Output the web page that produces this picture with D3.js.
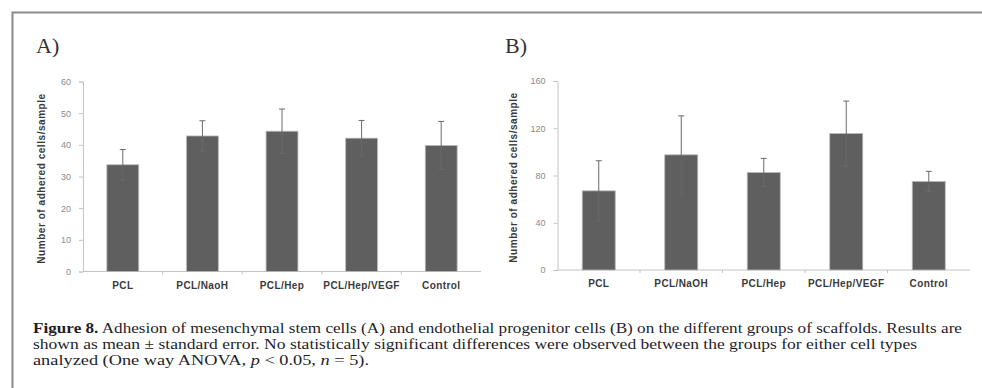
<!DOCTYPE html>
<html>
<head>
<meta charset="utf-8">
<script src="https://cdn.jsdelivr.net/npm/d3@7"></script>
<style>
  body { margin: 0; background: #fff; }
  svg { display: block; }
</style>
</head>
<body>
<svg id="fig" width="982" height="388"></svg>
<script>
var groups = ["PCL", "PCL/NaoH", "PCL/Hep", "PCL/Hep/VEGF", "Control"];
var groupsB = ["PCL", "PCL/NaOH", "PCL/Hep", "PCL/Hep/VEGF", "Control"];
var msc_mean = [33.7, 42.8, 44.3, 42.1, 39.8];
var msc_err = [4.8, 4.8, 7.0, 5.6, 7.6];
var epc_mean = [67, 97.5, 82.5, 115.5, 75];
var epc_err = [25.5, 33, 12, 27.5, 8.5];
var ticksA = [0, 10, 20, 30, 40, 50, 60];
var ticksB = [0, 40, 80, 120, 160];
var yTitle = "Number of adhered cells/sample";

var svg = d3.select("#fig");

// frame (open on right and bottom)
svg.append("path")
  .attr("d", "M12.5,388V12.5H982")
  .attr("fill", "none")
  .attr("stroke", "#8a8a8a")
  .attr("stroke-width", 2);

function drawPanel(opt) {
  var x = d3.scaleBand().domain(opt.cats).range([opt.x0, opt.x1])
    .paddingInner(0.6).paddingOuter(0.3);
  var y = d3.scaleLinear().domain([0, opt.max]).range([opt.y0, opt.y1]);
  var g = svg.append("g");

  // panel letter
  svg.append("text")
    .attr("x", opt.lx).attr("y", 53)
    .attr("font-family", "Liberation Serif")
    .attr("font-size", 22)
    .attr("fill", "#333")
    .text(opt.letter);

  // y axis
  var ya = g.append("g")
    .attr("transform", "translate(" + opt.x0 + ",0)")
    .call(d3.axisLeft(y).tickValues(opt.ticks).tickSize(4).tickPadding(8));
  ya.select(".domain").attr("stroke", "#c4c4c4");
  ya.selectAll(".tick line").attr("stroke", "#c4c4c4");
  ya.selectAll(".tick text")
    .attr("font-family", "Arial, Liberation Sans")
    .attr("font-size", 9)
    .attr("fill", "#8a8a8a");

  // x axis with ticks at category boundaries
  var xa = g.append("g").attr("transform", "translate(0," + opt.y0 + ")");
  xa.append("line")
    .attr("x1", opt.x0).attr("x2", opt.x1)
    .attr("stroke", "#c4c4c4");
  var step = x.step();
  xa.selectAll("line.b")
    .data(opt.cats.slice(1))
    .enter().append("line")
    .attr("class", "b")
    .attr("x1", function(d) { return x(d) - step * 0.3; })
    .attr("x2", function(d) { return x(d) - step * 0.3; })
    .attr("y1", 0).attr("y2", 3)
    .attr("stroke", "#c4c4c4");
  xa.selectAll("text")
    .data(opt.cats)
    .enter().append("text")
    .attr("x", function(d) { return x(d) + x.bandwidth() / 2; })
    .attr("y", 17)
    .attr("text-anchor", "middle")
    .attr("font-family", "Arial, Liberation Sans")
    .attr("font-weight", "bold")
    .attr("font-size", 10)
    .attr("letter-spacing", 0.4)
    .attr("fill", "#3a3a3a")
    .text(function(d) { return d; });

  // y title
  g.append("text")
    .attr("transform", "translate(" + opt.tx + "," + ((opt.y0 + opt.y1) / 2 + 2) + ") rotate(-90)")
    .attr("text-anchor", "middle")
    .attr("font-family", "Arial, Liberation Sans")
    .attr("font-weight", "bold")
    .attr("font-size", 10)
    .attr("letter-spacing", 0.55)
    .attr("fill", "#3a3a3a")
    .text(yTitle);

  // bars
  g.selectAll("rect.bar")
    .data(opt.mean)
    .enter().append("rect")
    .attr("class", "bar")
    .attr("x", function(d, i) { return x(opt.cats[i]); })
    .attr("width", x.bandwidth())
    .attr("y", function(d) { return y(d); })
    .attr("height", function(d) { return opt.y0 - y(d); })
    .attr("fill", "#5f5f5f")
    .attr("stroke", "#b8b8b8")
    .attr("stroke-width", 0.8);

  // error bars
  var eb = g.selectAll("g.err")
    .data(opt.mean)
    .enter().append("g")
    .attr("class", "err")
    .attr("stroke", "#6a6a6a")
    .attr("stroke-width", 1);
  eb.append("line")
    .attr("x1", function(d, i) { return x(opt.cats[i]) + x.bandwidth() / 2; })
    .attr("x2", function(d, i) { return x(opt.cats[i]) + x.bandwidth() / 2; })
    .attr("y1", function(d, i) { return y(d - opt.err[i]); })
    .attr("y2", function(d, i) { return y(d + opt.err[i]); });
  [1, -1].forEach(function(s) {
    eb.append("line")
      .attr("x1", function(d, i) { return x(opt.cats[i]) + x.bandwidth() / 2 - 3; })
      .attr("x2", function(d, i) { return x(opt.cats[i]) + x.bandwidth() / 2 + 3; })
      .attr("y1", function(d, i) { return y(d + s * opt.err[i]); })
      .attr("y2", function(d, i) { return y(d + s * opt.err[i]); });
  });
}

drawPanel({ letter: "A)", lx: 36, cats: groups, mean: msc_mean, err: msc_err,
  max: 60, ticks: ticksA, x0: 83, x1: 481, y0: 271.5, y1: 81.5, tx: 45 });
drawPanel({ letter: "B)", lx: 505, cats: groupsB, mean: epc_mean, err: epc_err,
  max: 160, ticks: ticksB, x0: 557.5, x1: 970, y0: 270, y1: 81, tx: 517 });

// caption
var cap = svg.append("g")
  .attr("font-family", "Liberation Serif")
  .attr("font-size", 14)
  .attr("fill", "#1e1e2a");

var l1 = cap.append("text").attr("x", 33).attr("y", 333)
  .attr("textLength", 929).attr("lengthAdjust", "spacingAndGlyphs");
l1.append("tspan").attr("font-weight", "bold").text("Figure 8.");
l1.append("tspan").text(" Adhesion of mesenchymal stem cells (A) and endothelial progenitor cells (B) on the different groups of scaffolds. Results are");

cap.append("text").attr("x", 33).attr("y", 349)
  .attr("textLength", 884).attr("lengthAdjust", "spacingAndGlyphs")
  .text("shown as mean \u00b1 standard error. No statistically significant differences were observed between the groups for either cell types");

var l3 = cap.append("text").attr("x", 33).attr("y", 365)
  .attr("textLength", 336).attr("lengthAdjust", "spacingAndGlyphs");
l3.append("tspan").text("analyzed (One way ANOVA, ");
l3.append("tspan").attr("font-style", "italic").text("p");
l3.append("tspan").text(" < 0.05, ");
l3.append("tspan").attr("font-style", "italic").text("n");
l3.append("tspan").text(" = 5).");
</script>
</body>
</html>
